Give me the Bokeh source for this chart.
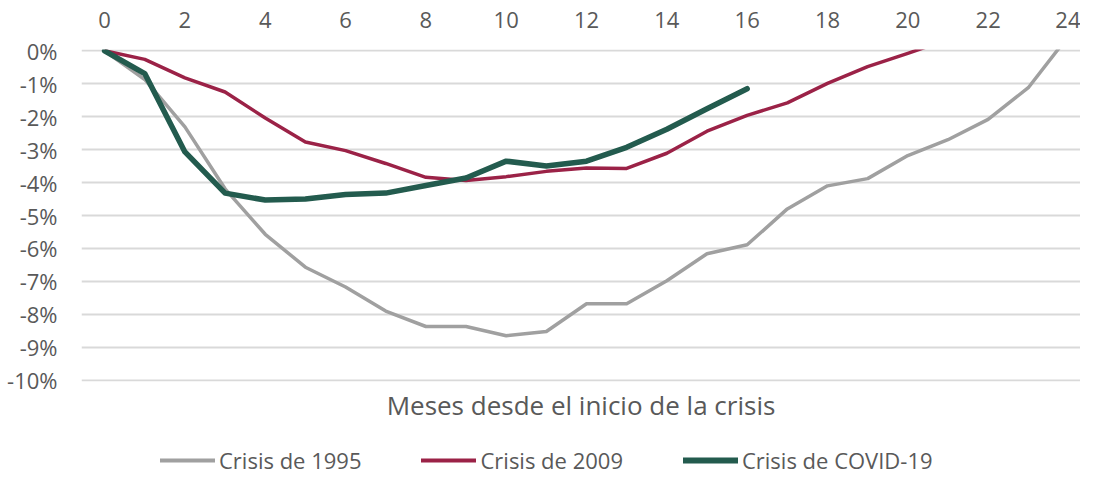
from bokeh.plotting import figure
from bokeh.layouts import column
from bokeh.models import FixedTicker, PrintfTickFormatter, LinearAxis, Legend, LegendItem, Range1d
from bokeh.embed import file_html
from bokeh.resources import INLINE

# ---- data ----
months_1995 = list(range(0, 25))
crisis_1995 = [0, -0.87, -2.31, -4.19, -5.57, -6.57, -7.17, -7.90, -8.37, -8.37,
               -8.65, -8.52, -7.68, -7.68, -6.98, -6.16, -5.89, -4.80, -4.10, -3.88,
               -3.18, -2.70, -2.08, -1.12, 0.45]
months_2009 = list(range(0, 22))
crisis_2009 = [0, -0.26, -0.82, -1.25, -2.04, -2.77, -3.03, -3.42, -3.84, -3.94,
               -3.82, -3.66, -3.56, -3.57, -3.11, -2.44, -1.96, -1.58, -0.99, -0.48,
               -0.08, 0.35]
months_covid = list(range(0, 17))
crisis_covid = [0, -0.69, -3.07, -4.32, -4.53, -4.50, -4.36, -4.32, -4.09, -3.86,
                -3.35, -3.50, -3.35, -2.93, -2.38, -1.76, -1.15]
x_ticks = list(range(0, 25, 2))
y_ticks = list(range(-10, 1))
labels = ["Crisis de 1995", "Crisis de 2009", "Crisis de COVID-19"]
colors = ["#A0A0A0", "#9B2247", "#235B4E"]
widths = [3.5, 3.5, 5.5]

FONT = "Open Sans"
TXT = "#595959"

p = figure(width=1080, height=425, output_backend="svg", toolbar_location=None,
           x_range=Range1d(-0.575, 24.3), y_range=Range1d(-10.04, 0.04),
           x_axis_location="above",
           min_border_left=81, min_border_right=0, min_border_top=49, min_border_bottom=44)
p.outline_line_color = None
p.background_fill_color = "white"
p.border_fill_color = "white"

# top x axis
xa = p.xaxis[0]
xa.ticker = FixedTicker(ticks=x_ticks)
xa.axis_line_color = None
xa.major_tick_line_color = None
xa.minor_tick_line_color = None
xa.major_label_text_font = FONT
xa.major_label_text_font_size = "22px"
xa.major_label_text_color = TXT
xa.major_label_standoff = 16

# y axis
ya = p.yaxis[0]
ya.ticker = FixedTicker(ticks=y_ticks)
ya.formatter = PrintfTickFormatter(format="%d%%")
ya.axis_line_color = None
ya.major_tick_line_color = None
ya.minor_tick_line_color = None
ya.major_label_text_font = FONT
ya.major_label_text_font_size = "22px"
ya.major_label_text_color = TXT
ya.major_label_standoff = 18

p.xgrid.grid_line_color = None
p.ygrid.ticker = FixedTicker(ticks=y_ticks)
p.ygrid.grid_line_color = "#D9D9D9"
p.ygrid.grid_line_width = 2

# bottom axis used only for the title
bx = LinearAxis(ticker=FixedTicker(ticks=[]), axis_label="Meses desde el inicio de la crisis")
bx.axis_line_color = None
bx.major_tick_line_color = None
bx.minor_tick_line_color = None
bx.major_label_standoff = 0
bx.axis_label_standoff = 5
bx.axis_label_text_font = FONT
bx.axis_label_text_font_style = "normal"
bx.axis_label_text_font_size = "26px"
bx.axis_label_text_color = TXT
p.add_layout(bx, "below")

r1 = p.line(months_1995, crisis_1995, line_color=colors[0], line_width=widths[0], line_join="round")
r2 = p.line(months_2009, crisis_2009, line_color=colors[1], line_width=widths[1], line_join="round")
r3 = p.line(months_covid, crisis_covid, line_color=colors[2], line_width=widths[2],
            line_join="round", line_cap="round")

# legend strip (same series, drawn off-view so only the legend shows)
q = figure(width=1080, height=50, output_backend="svg", toolbar_location=None,
           x_range=Range1d(0, 1), y_range=Range1d(100, 101),
           min_border_left=0, min_border_right=0, min_border_top=0, min_border_bottom=0)
q.axis.visible = False
q.grid.visible = False
q.outline_line_color = None
q.background_fill_color = "white"
q.border_fill_color = "white"
series = [(months_1995, crisis_1995), (months_2009, crisis_2009), (months_covid, crisis_covid)]
items = []
for lab, c, w, (xs, ys) in zip(labels, colors, widths, series):
    rr = q.line(x=xs, y=ys, line_color=c, line_width=w + 0.5, line_cap="round")
    items.append(LegendItem(label=lab, renderers=[rr]))
legend = Legend(items=items, orientation="horizontal", location=(79, 0),
                label_text_font=FONT, label_text_font_size="22px", label_text_color=TXT,
                glyph_width=55, glyph_height=18, label_standoff=4, spacing=60,
                padding=0, margin=0, border_line_color=None, background_fill_alpha=0)
q.add_layout(legend, "center")

layout = column(p, q, spacing=0)
open("out.html", "w").write(file_html(layout, INLINE))
